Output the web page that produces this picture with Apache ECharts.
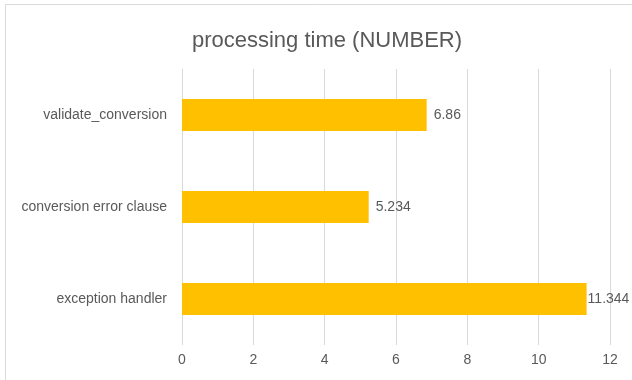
<!DOCTYPE html>
<html><head><meta charset="utf-8">
<script src="https://cdn.jsdelivr.net/npm/echarts@6/dist/echarts.min.js"></script>
<style>html,body{margin:0;padding:0;background:#fff}#c{width:632px;height:380px}</style>
</head><body><div id="c"></div>
<script>
const categories = ['exception handler', 'conversion error clause', 'validate_conversion'];
const values = [11.344, 5.234, 6.86];
const labelTexts = ['11.344', '5.234', '6.86'];
const xTicks = [0, 2, 4, 6, 8, 10, 12];

const FONT = '"Liberation Sans", Arial, sans-serif';
const chart = echarts.init(document.getElementById('c'));
chart.setOption({
  animation: false,
  title: {
    text: 'processing time (NUMBER)', left: 322, top: 25, textAlign: 'center',
    textStyle: { fontFamily: FONT, fontSize: 22, fontWeight: 'normal', color: '#595959' }
  },
  graphic: [{
    type: 'rect', shape: { x: 5.5, y: 4.5, width: 800, height: 600 },
    style: { fill: 'none', stroke: '#d9d9d9', lineWidth: 1 }, silent: true
  }],
  grid: { left: 182, right: 22, top: 69, bottom: 35, containLabel: false },
  xAxis: {
    type: 'value', min: xTicks[0], max: xTicks[xTicks.length - 1], interval: 2,
    axisLine: { show: false }, axisTick: { show: false },
    splitLine: { lineStyle: { color: '#d9d9d9', width: 1 } },
    axisLabel: { fontFamily: FONT, fontSize: 14, color: '#595959', margin: 8 }
  },
  yAxis: {
    type: 'category', data: categories,
    axisLine: { show: false }, axisTick: { show: false },
    axisLabel: { fontFamily: FONT, fontSize: 14, color: '#595959', margin: 15 }
  },
  series: [{
    type: 'bar', barWidth: '35%',
    data: values.map((v, i) => ({
      value: v,
      label: { distance: i === 0 ? 1 : 7 }
    })),
    itemStyle: { color: '#FFC000' },
    label: {
      show: true, position: 'right', fontFamily: FONT, fontSize: 14, color: '#595959',
      formatter: p => labelTexts[p.dataIndex]
    }
  }]
});
</script></body></html>
